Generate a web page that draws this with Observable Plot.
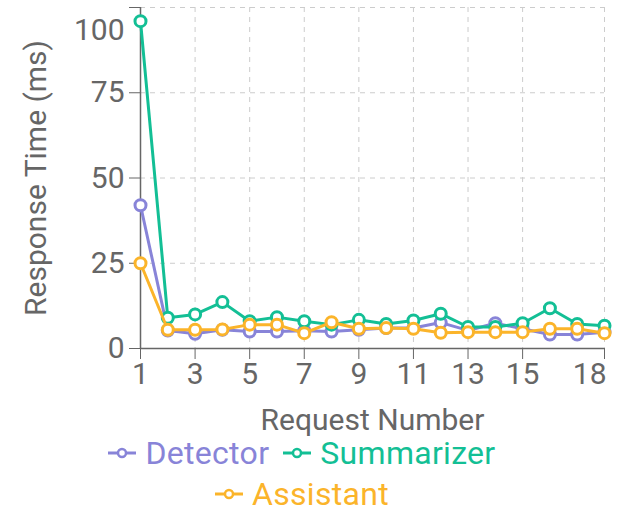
<!DOCTYPE html>
<html>
<head>
<meta charset="utf-8">
<script src="https://cdn.jsdelivr.net/npm/d3@7"></script>
<script src="https://cdn.jsdelivr.net/npm/@observablehq/plot@0.6"></script>
<style>
  html, body { margin: 0; padding: 0; background: #fff; }
  body { width: 619px; height: 512px; overflow: hidden; font-family: Roboto, sans-serif; position: relative; }
  #legend { position: absolute; left: 82px; top: 440px; width: 440px; display: flex; flex-wrap: wrap; justify-content: center; column-gap: 14px; row-gap: 15px; font-size: 32px; line-height: 26px; letter-spacing: 0.3px; }
  .item { display: flex; align-items: center; white-space: nowrap; }
  .item svg { margin-right: 9px; }
</style>
</head>
<body>
<div id="chart"></div>
<div id="legend"></div>
<script>
const requests = [1, 2, 3, 4, 5, 6, 7, 8, 9, 10, 11, 12, 13, 14, 15, 16, 17, 18];
const detector = [42, 5.3, 4.3, 5.5, 5, 5, 5.2, 5, 5.5, 6, 6, 7.6, 5.3, 7.4, 5.8, 4.1, 4.1, 4.8];
const summarizer = [96, 9, 10, 13.6, 8, 9.2, 8, 7, 8.4, 7.2, 8.2, 10.2, 6.3, 6.3, 7.4, 11.8, 7.2, 6.7];
const assistant = [25, 5.5, 5.5, 5.6, 7, 7, 4.5, 7.7, 5.8, 6, 5.8, 4.6, 4.8, 4.8, 4.8, 5.8, 5.8, 4.5];
const seriesNames = ["Detector", "Summarizer", "Assistant"];
const seriesColors = ["#8884d8", "#13bf95", "#fbb42a"];
const xTicks = [1, 3, 5, 7, 9, 11, 13, 15, 18];
const yTicks = [0, 25, 50, 75, 100];

const seriesValues = [detector, summarizer, assistant];
const data = seriesNames.map((name, i) => requests.map((r, j) => ({series: name, request: r, value: seriesValues[i][j]})));
const lastX = xTicks[xTicks.length - 1];
const topY = yTicks[yTicks.length - 1];

const marks = [
  Plot.gridY(yTicks, {stroke: "#cccccc", strokeOpacity: 1, strokeDasharray: "5 5"}),
  Plot.gridX(xTicks, {stroke: "#cccccc", strokeOpacity: 1, strokeDasharray: "5 5"}),
  Plot.axisX({ticks: xTicks, tickSize: 11, tickPadding: 3, fontSize: 30, color: "#666", label: null, tickFormat: d => d === lastX ? "" : String(d)}),
  Plot.axisX({ticks: [lastX], tickSize: 0, tickPadding: 14, fontSize: 30, color: "#666", label: null, textAnchor: "end", dx: 2}),
  Plot.axisX({ticks: [], label: "Request Number", labelAnchor: "center", labelArrow: "none", labelOffset: 81, fontSize: 30, color: "#666", dx: -9}),
  Plot.axisY({ticks: yTicks, tickSize: 11, tickPadding: 5, fontSize: 30, color: "#666", tickFormat: d => d === topY ? "" : String(d), label: "Response Time (ms)", labelAnchor: "center", labelArrow: "none", labelOffset: 116}),
  Plot.axisY({ticks: [topY], tickSize: 0, tickPadding: 16, fontSize: 30, color: "#666", dy: 23, label: null}),
  Plot.ruleX([1], {stroke: "#666", strokeWidth: 1.5}),
  Plot.ruleY([0], {stroke: "#666", strokeWidth: 1.5})
];
data.forEach((d, i) => {
  marks.push(Plot.line(d, {x: "request", y: "value", stroke: seriesColors[i], strokeWidth: 3}));
  marks.push(Plot.dot(d, {x: "request", y: "value", r: 5.5, fill: "white", stroke: seriesColors[i], strokeWidth: 3}));
});

const chart = Plot.plot({
  width: 619,
  height: 436,
  marginTop: 7,
  marginBottom: 88,
  marginLeft: 140,
  marginRight: 15,
  style: {fontFamily: "Roboto, sans-serif", fontSize: "30px", color: "#666"},
  x: {domain: [1, 18]},
  y: {domain: [0, 100]},
  marks
});
document.getElementById("chart").appendChild(chart);

const legend = document.getElementById("legend");
seriesNames.forEach((name, i) => {
  const item = document.createElement("div");
  item.className = "item";
  item.style.color = seriesColors[i];
  item.innerHTML = `<svg width="28" height="14"><line x1="0" y1="7" x2="28" y2="7" stroke="${seriesColors[i]}" stroke-width="3"/><circle cx="14" cy="7" r="4" fill="white" stroke="${seriesColors[i]}" stroke-width="2.5"/></svg><span>${name}</span>`;
  legend.appendChild(item);
});
</script>
</body>
</html>
